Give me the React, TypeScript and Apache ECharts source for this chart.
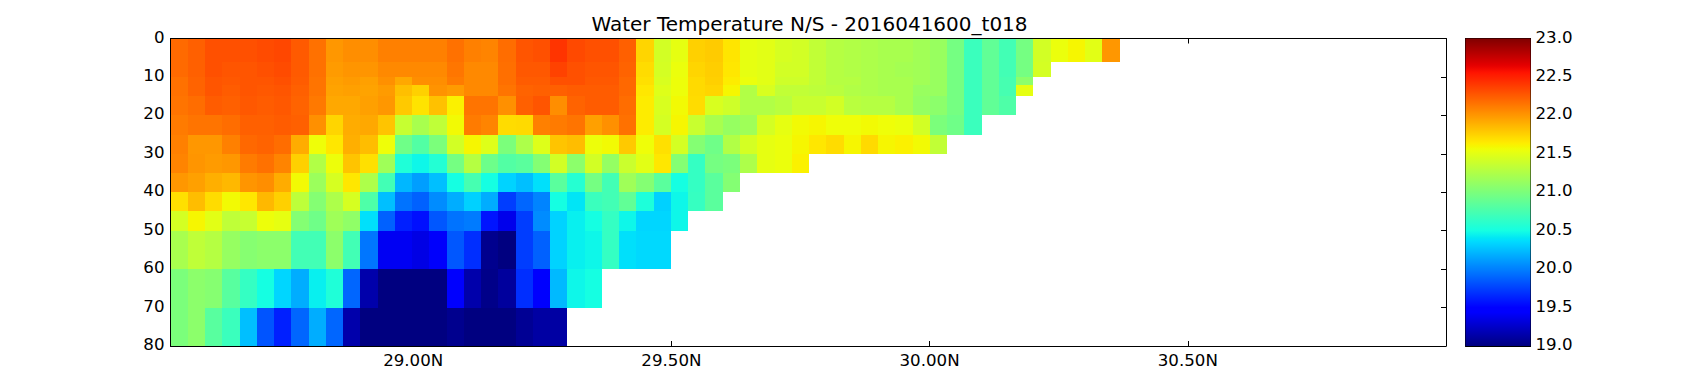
import React, { useEffect, useRef } from "react";
import * as echarts from "echarts";

const title = "Water Temperature N/S - 2016041600_t018";
const xTickValues = [29.0, 29.5, 30.0, 30.5];
const firstLatitude = 28.53;
const lastLatitude = 31.0;
const latitudeStep = 0.03342;
const depthEdges = [0, 6, 10, 12, 15, 20, 25, 30, 35, 40, 45, 50, 60, 70, 80];

const row00 = [22.19,22.23,22.3,22.3,22.3,22.32,22.34,22.26,22.16,22.0,22.04,22.04,22.1,22.1,22.1,22.1,22.16,22.1,22.08,22.18,22.28,22.3,22.42,22.33,22.3,22.3,22.23,21.74,21.42,21.52,21.76,21.78,21.67,21.52,21.5,21.44,21.42,21.34,21.28,21.26,21.24,21.22,21.22,21.18,21.14,20.97,20.68,20.87,20.72,20.97,21.42,21.54,21.6,21.5,22.0];
const row06 = [22.19,22.23,22.3,22.28,22.28,22.3,22.32,22.26,22.16,21.98,22.01,22.01,22.06,22.06,22.06,22.06,22.14,22.06,22.06,22.17,22.27,22.27,22.36,22.3,22.28,22.28,22.22,21.71,21.43,21.54,21.74,21.77,21.66,21.52,21.5,21.42,21.42,21.34,21.28,21.26,21.24,21.22,21.2,21.18,21.14,20.97,20.68,20.87,20.72,20.97,21.43];
const row10 = [22.16,22.22,22.28,22.27,22.28,22.28,22.3,22.25,22.15,21.96,21.98,21.96,22.03,21.93,22.04,22.04,22.12,22.06,22.06,22.17,22.25,22.25,22.3,22.3,22.27,22.27,22.2,21.69,21.45,21.55,21.72,21.76,21.64,21.54,21.5,21.4,21.4,21.34,21.28,21.28,21.24,21.22,21.22,21.18,21.14,20.97,20.68,20.87,20.74,21.08];
const row12 = [22.16,22.22,22.28,22.25,22.28,22.27,22.28,22.23,22.15,21.95,21.96,21.95,21.98,21.83,21.76,22.02,21.98,22.06,22.06,22.15,22.22,22.23,22.23,22.25,22.25,22.25,22.2,21.66,21.48,21.55,21.72,21.74,21.6,21.26,21.45,21.34,21.34,21.32,21.3,21.26,21.24,21.22,21.22,21.14,21.14,20.97,20.68,20.87,20.74,21.52];
const row15 = [22.15,22.18,22.25,22.23,22.27,22.25,22.27,22.22,22.13,21.93,21.93,21.96,22.0,21.79,21.68,21.82,21.62,22.15,22.15,22.03,22.23,22.28,22.04,22.22,22.25,22.25,22.18,21.64,21.45,21.58,21.71,21.45,21.4,21.26,21.26,21.3,21.37,21.37,21.42,21.3,21.28,21.28,21.22,21.12,21.08,20.97,20.68,20.87,20.78];
const row20 = [22.12,22.15,22.15,22.18,22.23,22.23,22.25,22.23,22.03,21.74,21.91,21.93,21.81,21.36,21.22,21.33,21.58,22.12,22.08,21.71,21.72,22.1,22.12,22.15,21.96,22.03,22.16,21.64,21.43,21.6,21.37,21.22,21.13,21.17,21.43,21.52,21.58,21.6,21.56,21.56,21.58,21.56,21.54,21.42,21.0,20.94,20.68];
const row25 = [22.1,22.0,22.0,22.1,22.2,22.22,22.18,21.91,21.56,21.66,21.9,21.84,21.56,20.94,20.8,21.0,21.42,21.6,21.48,21.0,21.24,21.48,21.81,21.84,21.55,21.58,21.79,21.56,21.69,21.43,21.04,20.94,21.26,21.43,21.52,21.54,21.6,21.66,21.71,21.6,21.72,21.6,21.62,21.58,21.34];
const row30 = [22.08,22.01,21.98,22.0,22.12,22.16,22.08,21.76,21.26,21.55,21.81,21.69,21.17,20.55,20.47,20.57,20.97,21.28,20.93,20.8,20.84,21.04,21.42,21.08,21.42,21.12,21.38,21.5,21.66,21.04,20.65,20.97,21.0,21.24,21.52,21.54,21.62];
const row35 = [22.0,21.96,21.9,21.86,22.01,22.04,21.91,21.58,21.15,21.44,21.66,21.24,20.72,20.22,20.12,20.25,20.5,20.74,20.5,20.33,20.25,20.38,20.84,20.58,20.97,20.72,21.17,21.04,20.84,20.5,20.65,20.84,21.04];
const row40 = [21.69,21.84,21.71,21.58,21.66,21.86,21.76,21.32,21.04,21.24,21.44,20.78,20.25,19.95,19.88,20.05,20.18,20.32,20.18,19.74,19.9,20.02,20.5,20.4,20.68,20.72,20.87,20.54,20.32,20.47,20.66,20.84];
const row45 = [21.43,21.6,21.5,21.33,21.36,21.55,21.52,21.04,20.94,21.17,21.1,20.38,19.88,19.62,19.56,19.84,19.95,19.98,19.58,19.37,19.74,20.05,20.33,20.44,20.5,20.65,20.47,20.34,20.34,20.47];
const row50 = [21.22,21.33,21.28,21.13,21.05,21.08,21.08,20.72,20.72,21.08,20.72,19.96,19.4,19.4,19.35,19.43,19.84,19.68,19.05,19.0,19.74,19.88,20.33,20.44,20.47,20.65,20.38,20.35,20.35];
const row60 = [21.0,21.08,21.05,20.83,20.65,20.5,20.34,20.18,20.44,20.55,19.9,19.15,19.0,19.0,19.0,19.0,19.44,19.15,19.03,19.1,19.68,19.44,20.23,20.47,20.5];
const row70 = [21.0,21.08,20.83,20.68,20.25,19.83,19.62,19.9,20.18,19.9,19.15,19.0,19.0,19.0,19.0,19.0,19.05,19.0,19.0,19.0,19.07,19.12,19.12];
const rows = [row00,row06,row10,row12,row15,row20,row25,row30,row35,row40,row45,row50,row60,row70];

const colorMin = 19;
const colorMax = 23;
const jetR: number[][] = [[0,0],[0.35,0],[0.66,1],[0.89,1],[1,0.5]];
const jetG: number[][] = [[0,0],[0.125,0],[0.375,1],[0.64,1],[0.91,0],[1,0]];
const jetB: number[][] = [[0,0.5],[0.11,1],[0.34,1],[0.65,0],[1,0]];

function channel(table: number[][], t: number) {
  for (let i = 1; i < table.length; i++) {
    if (t <= table[i][0]) {
      const [a, av] = table[i - 1];
      const [b, bv] = table[i];
      return Math.round((av + ((bv - av) * (t - a)) / (b - a)) * 255);
    }
  }
  return Math.round(table[table.length - 1][1] * 255);
}
const jetSamples: string[] = Array.from({ length: 129 }, (_, i) => {
  const t = i / 128;
  return `rgb(${channel(jetR, t)},${channel(jetG, t)},${channel(jetB, t)})`;
});

const cells: number[][] = [];
rows.forEach((row, r) => {
  row.forEach((v, c) => {
    cells.push([firstLatitude + c * latitudeStep, firstLatitude + (c + 1) * latitudeStep, depthEdges[r], depthEdges[r + 1], v]);
  });
});

const font = "DejaVu Sans";
const tickFont = 16.67;

export default function App() {
  const ref = useRef<HTMLDivElement>(null);
  useEffect(() => {
    document.body.style.margin = "0";
    const chart = echarts.init(ref.current!, null, { renderer: "svg" });
    const mainX = { min: firstLatitude, max: lastLatitude, gridIndex: 0, type: "value" as const, splitLine: { show: false }, scale: true,
      axisLine: { show: true, onZero: false, lineStyle: { color: "#000", width: 1 } } };
    const mainY = { min: 0, max: 80, interval: 10, gridIndex: 0, type: "value" as const, inverse: true, splitLine: { show: false },
      axisLine: { show: true, onZero: false, lineStyle: { color: "#000", width: 1 } } };
    chart.setOption({
      animation: false,
      backgroundColor: "#fff",
      title: { text: title, left: 804.5, top: 9, textAlign: "center",
        textStyle: { fontFamily: font, fontSize: 20, fontWeight: "normal", color: "#000" } },
      grid: [
        { left: 170.5, top: 38.5, width: 1275.5, height: 307.5, containLabel: false },
        { left: 1465.5, top: 38.5, width: 65, height: 307.5, containLabel: false },
      ],
      visualMap: { show: false, seriesIndex: 0, dimension: 4, min: colorMin, max: colorMax, inRange: { color: jetSamples } },
      xAxis: [
        { ...mainX, position: "bottom",
          axisTick: { show: true, inside: true, length: 5, customValues: xTickValues, lineStyle: { color: "#000" } },
          axisLabel: { show: true, customValues: xTickValues, margin: 6, color: "#000", fontFamily: font, fontSize: tickFont,
            formatter: (v: number) => v.toFixed(2) + "N" } },
        { ...mainX, position: "top",
          axisTick: { show: true, inside: true, length: 5, customValues: xTickValues, lineStyle: { color: "#000" } },
          axisLabel: { show: false } },
        { gridIndex: 1, type: "value", min: 0, max: 1, position: "bottom", splitLine: { show: false },
          axisLine: { show: true, onZero: false, lineStyle: { color: "#000" } }, axisTick: { show: false }, axisLabel: { show: false } },
        { gridIndex: 1, type: "value", min: 0, max: 1, position: "top", splitLine: { show: false },
          axisLine: { show: true, onZero: false, lineStyle: { color: "#000" } }, axisTick: { show: false }, axisLabel: { show: false } },
      ],
      yAxis: [
        { ...mainY, position: "left",
          axisTick: { show: true, inside: true, length: 5, lineStyle: { color: "#000" } },
          axisLabel: { show: true, margin: 6, verticalAlign: "bottom", lineHeight: 3, color: "#000", fontFamily: font, fontSize: tickFont } },
        { ...mainY, position: "right",
          axisTick: { show: true, inside: true, length: 5, lineStyle: { color: "#000" } },
          axisLabel: { show: false } },
        { gridIndex: 1, type: "value", min: colorMin, max: colorMax, interval: 0.5, position: "right", splitLine: { show: false },
          axisLine: { show: true, onZero: false, lineStyle: { color: "#000" } },
          axisTick: { show: true, inside: true, length: 5, lineStyle: { color: "#000" } },
          axisLabel: { show: true, margin: 5, verticalAlign: "bottom", lineHeight: 3, color: "#000", fontFamily: font, fontSize: tickFont,
            formatter: (v: number) => v.toFixed(1) } },
        { gridIndex: 1, type: "value", min: colorMin, max: colorMax, position: "left", splitLine: { show: false },
          axisLine: { show: true, onZero: false, lineStyle: { color: "#000" } }, axisTick: { show: false }, axisLabel: { show: false } },
      ],
      series: [
        {
          type: "custom", xAxisIndex: 0, yAxisIndex: 0, data: cells, clip: true, silent: true,
          dimensions: ["x0", "x1", "d0", "d1", "value"],
          encode: { x: [0, 1], y: [2, 3] },
          renderItem: (_: any, api: any) => {
            const a = api.coord([api.value(0), api.value(2)]);
            const b = api.coord([api.value(1), api.value(3)]);
            const x = Math.round(a[0]), y = Math.round(a[1]);
            return {
              type: "rect",
              shape: { x, y, width: Math.round(b[0]) - x, height: Math.round(b[1]) - y },
              style: { fill: api.visual("color") },
            };
          },
          z: 1,
        },
        {
          type: "custom", xAxisIndex: 2, yAxisIndex: 2, data: [[0, 1, colorMin, colorMax]], silent: true,
          encode: { x: [0, 1], y: [2, 3] },
          renderItem: (_: any, api: any) => {
            const a = api.coord([api.value(0), api.value(3)]);
            const b = api.coord([api.value(1), api.value(2)]);
            return {
              type: "rect",
              shape: { x: a[0], y: a[1], width: b[0] - a[0], height: b[1] - a[1] },
              style: {
                fill: new echarts.graphic.LinearGradient(0, 1, 0, 0,
                  jetSamples.map((color, i) => ({ offset: i / (jetSamples.length - 1), color }))),
              },
            };
          },
          z: 1,
        },
      ],
    });
    return () => chart.dispose();
  }, []);
  return <div ref={ref} style={{ position: "absolute", left: 0, top: 0, width: 1700, height: 384 }} />;
}
